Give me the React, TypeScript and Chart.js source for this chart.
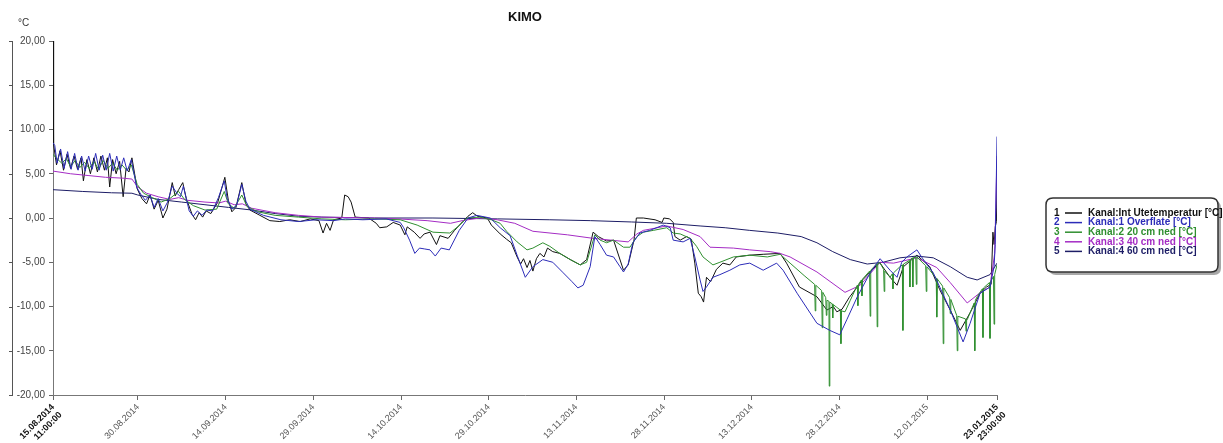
import React, { useEffect, useRef } from 'react';
import { Chart, registerables } from 'chart.js';

Chart.register(...registerables);

const chartTitle = 'KIMO';
const unitLabel = '°C';

const seriesNames = [
  'Kanal:Int Utetemperatur [°C]',
  'Kanal:1 Overflate [°C]',
  'Kanal:2 20 cm ned [°C]',
  'Kanal:3 40 cm ned [°C]',
  'Kanal:4 60 cm ned [°C]',
];
const seriesColors = ['#111111', '#2c2cb8', '#2f8f2f', '#a42cc4', '#1d1d66'];
// drawing order: lower value is drawn on top
const seriesOrder = [5, 1, 2, 3, 4];

// x positions in days since 15.08.2014 11:00:00
const xTickDays = [0, 14.54, 29.54, 44.54, 59.54, 74.54, 89.54, 104.54, 119.54, 134.54, 149.54, 161.5];
const xTickLabels: (string | string[])[] = [
  ['15.08.2014', '11:00:00'],
  '30.08.2014',
  '14.09.2014',
  '29.09.2014',
  '14.10.2014',
  '29.10.2014',
  '13.11.2014',
  '28.11.2014',
  '13.12.2014',
  '28.12.2014',
  '12.01.2015',
  ['23.01.2015', '23:00:00'],
];
const yTickValues = [20, 15, 10, 5, 0, -5, -10, -15, -20];

const uteTemp: [number, number][] = [
  [0, 20], [0.1, 8.3], [0.6, 6.0], [1.2, 7.6], [1.8, 5.4], [2.4, 7.2], [3, 5.6], [3.6, 7.0], [4.2, 5.5], [4.8, 6.8],
  [5.2, 4.2], [5.8, 6.6], [6.4, 5.0], [7, 6.8], [7.6, 5.2], [8.2, 7.0], [8.8, 5.4], [9.3, 6.8], [9.7, 3.5], [10.2, 6.6],
  [10.8, 5.0], [11.4, 6.4], [12, 2.4], [12.5, 5.6], [13, 5.2], [13.5, 6.8],
  [14.4, 3.3], [15.2, 2.2], [16, 1.6], [16.6, 2.6], [17.3, 1.0], [18, 2.0], [18.8, 0.0], [19.5, 1.0],
  [20.4, 4.0], [20.9, 2.5], [21.5, 3.2], [22.2, 4.0], [22.8, 2.2], [23.8, 0.4], [24.4, -0.2], [25, 0.6], [25.6, 0.1], [26.2, 0.8],
  [27, 0.5], [28.2, 1.8], [29.4, 4.6], [30, 2.0], [30.6, 0.7], [31.3, 1.2], [32.3, 4.0], [33, 1.6], [33.7, 0.9],
  [35.4, 0.3], [37.1, -0.3], [38.8, -0.4], [40.5, -0.2], [42.3, -0.4], [44, -0.1], [45.5, -0.3], [46.2, -1.7], [46.8, -0.6], [47.4, -1.4],
  [48, -0.2], [49.4, 0.0], [49.9, 2.6], [50.5, 2.4], [51, 1.8], [51.7, 0.1], [54, 0.0], [55.3, -0.6], [55.9, -1.1], [57.1, -1.0],
  [58.2, -0.5], [59.4, -0.8], [60.2, -1.9], [60.6, -1.0], [61.8, -1.6], [62.8, -2.3], [63.5, -1.8], [64.5, -1.6], [65.6, -3.0], [66.2, -2.0],
  [67.6, -2.3], [68.7, -1.4], [70.1, -0.4], [71, 0.2], [71.8, 0.6], [72.6, 0.2], [74.3, 0.0], [75, -0.8],
  [76.5, -1.8], [77.6, -2.4], [78.4, -2.8], [79.4, -4.4], [80, -5.2], [80.5, -4.6], [81.1, -5.6], [81.6, -4.8], [82.1, -6.0], [82.7, -4.6],
  [83.3, -4.0], [84, -4.4], [84.6, -3.4], [85.5, -3.8], [86.7, -4.0], [88.5, -4.7], [90.2, -5.3], [91.3, -4.7], [92.4, -1.6], [93.3, -2.1],
  [94.7, -2.6], [95.9, -2.5], [97.6, -5.9], [98.4, -5.3], [99.4, -2.5], [99.8, 0.0], [101, 0.0], [103, -0.2], [104.2, -0.5], [104.5, 0.0],
  [105.5, -0.1], [106.1, -0.5], [106.4, -2.1], [107.3, -2.5], [108.4, -2.1], [109.2, -2.4], [109.8, -5.1], [110.4, -8.5], [110.9, -8.9], [111.3, -9.5],
  [111.8, -6.7], [112.5, -7.2], [113.5, -5.8], [114.6, -5.1], [115.8, -5.3], [116.9, -4.4], [119.2, -4.2],
  [121.5, -4.1], [124.4, -4.0], [125.5, -5.1], [127.7, -7.8], [130.7, -8.9], [132.4, -10.4], [133.5, -10.0], [134.1, -10.6], [135, -10.3], [136.2, -9.0],
  [138.5, -7.0], [141.4, -5.0], [143.2, -6.7], [144.4, -7.6], [145.5, -5.5], [147.8, -4.2], [150, -5.5], [151.7, -8.1], [153.5, -10.4], [155.2, -12.7],
  [156.9, -10.7], [158.6, -8.5], [159.7, -7.8], [160.5, -7.5], [160.8, -1.6], [161, -3.0], [161.2, -1.0], [161.4, -0.4], [161.5, 4.5],
];

const overflate: [number, number][] = [
  [0, 8.5], [0.3, 8.2], [0.7, 6.2], [1.3, 7.8], [1.9, 5.6], [2.5, 7.5], [3.1, 5.5], [3.7, 7.3], [4.3, 5.4], [4.9, 7.0],
  [5.5, 5.3], [6.1, 7.0], [6.7, 5.5], [7.3, 7.3], [7.9, 5.4], [8.5, 7.1], [9.1, 5.4], [9.7, 7.3], [10.3, 5.3], [10.9, 7.0],
  [11.5, 5.4], [12.1, 6.8], [12.7, 5.3], [13.4, 6.6],
  [14.3, 3.5], [15, 2.7], [15.8, 2.0], [16.6, 2.6], [17.3, 1.2], [18, 2.2], [18.8, 0.8], [19.6, 1.8], [20.4, 3.6], [21.2, 2.8],
  [21.8, 2.4], [22.3, 3.6], [23.3, 0.8], [24, 0.2], [24.7, 0.8], [25.5, 0.3], [26.3, 0.9], [27.3, 0.8], [28.3, 2.3], [29.3, 4.2],
  [29.8, 2.2], [30.6, 1.0], [31.4, 1.4], [32.3, 3.8], [33, 1.9], [33.7, 1.0],
  [36, 0.3], [39, -0.2], [42, -0.4], [45, -0.2], [48, -0.3], [50, -0.1], [53, -0.2], [57, -0.1], [59.4, -0.5], [60, -1.1],
  [61, -2.5], [61.9, -4.0], [62.7, -3.4], [63.6, -3.5], [64.5, -3.6], [65.4, -4.3], [66.4, -3.4], [67.8, -3.6], [69.5, -1.4], [71, 0.0],
  [72.5, 0.3], [74.8, 0.0], [76.5, -1.1],
  [78.2, -2.0], [79.4, -4.2], [80.8, -6.7], [82.1, -5.5], [83.8, -4.7], [85.5, -5.0], [87.3, -6.2], [88.8, -7.2], [89.8, -7.9], [90.7, -7.6],
  [91.9, -5.5], [92.7, -2.1], [93.6, -3.0], [94.7, -4.2], [95.9, -4.4], [97, -5.5], [97.6, -6.1], [98.4, -5.2], [99.2, -2.8], [100.4, -1.7],
  [102.1, -1.4], [104.4, -0.8], [105.6, -1.1], [106.1, -2.5], [107.8, -2.7], [109, -2.3], [109.8, -4.4], [110.7, -7.0], [111.2, -8.3], [111.9, -7.7],
  [112.9, -6.7], [114.1, -6.4], [115.8, -5.9], [117.5, -5.3], [119.2, -5.1],
  [121.5, -5.9], [123.8, -5.1], [124.9, -5.9], [127.3, -8.5], [130.7, -11.9], [132.9, -12.7], [134.6, -13.2], [135.8, -11.5], [137.6, -8.9], [139.8, -6.2],
  [141.5, -4.6], [143.2, -5.9], [144.4, -6.7], [145.2, -5.0], [146.1, -4.4], [147.8, -3.6], [148.8, -4.6], [150.6, -6.2], [153.5, -10.4], [155.7, -14.0],
  [156.9, -11.9], [158.6, -8.5], [160.3, -7.8], [161, -5.5], [161.2, -3.0], [161.5, 9.2],
];

const cm20: [number, number][] = [
  [0, 7.2], [0.5, 6.8], [1.5, 6.2], [2.3, 6.7], [3, 5.8], [3.8, 6.5], [4.6, 5.7], [5.4, 6.3], [6.2, 5.6], [7, 6.4],
  [7.8, 5.5], [8.6, 6.5], [9.4, 5.6], [10.2, 6.2], [11, 5.4], [11.8, 6.0], [12.6, 5.4], [13.4, 6.0], [14.4, 3.8], [15.5, 2.8],
  [17, 2.3], [18.5, 1.8], [20, 2.2], [21.5, 3.0], [22.5, 2.1], [24, 1.4], [26, 0.9], [28, 1.0], [29.3, 3.0], [30, 1.6],
  [31, 1.1], [32.3, 2.6], [33.2, 1.3], [35, 0.7], [38, 0.3], [42, 0.1], [46, -0.1], [50, -0.2], [55, -0.1], [59.4, -0.2],
  [62.3, -0.8], [65, -1.6], [67.9, -1.7], [69.6, -0.8], [70.8, 0.0], [73, 0.1], [75, -0.2],
  [76.5, -0.6], [77.6, -1.5], [79.4, -2.7], [81.1, -3.6], [82.1, -3.4], [83.8, -2.8], [85, -3.2], [86.7, -4.0], [88.5, -4.7], [90.2, -5.3],
  [91.3, -5.0], [92.7, -1.9], [93.6, -2.5], [94.7, -2.8], [95.9, -2.5], [97.6, -3.3], [98.7, -3.3], [99.9, -2.1], [101, -1.6], [102.7, -1.4],
  [105, -1.1], [106.1, -1.7], [107.3, -1.8], [109, -2.3], [110.1, -3.2], [111.2, -4.4], [112.9, -5.3], [114.1, -5.0], [116.4, -4.4], [119.2, -4.2],
  [122.2, -4.4], [124.4, -4.1], [126.1, -5.1], [128.5, -6.5], [130.3, -7.5], [130.4, -10.5], [130.5, -7.6], [131.5, -8.2], [131.6, -12.4], [131.7, -8.4],
  [132.2, -9.0], [132.3, -11.0], [132.4, -9.3], [132.75, -9.4], [132.8, -19.0], [132.9, -9.5], [133.3, -9.7], [133.4, -11.3], [133.5, -9.8], [134.1, -10.1],
  [134.7, -10.4], [134.8, -14.2], [134.9, -10.5], [135.5, -10.6], [136.4, -9.3], [137.6, -7.6], [137.7, -9.9], [137.8, -7.5], [138.3, -7.0], [138.4, -8.8],
  [138.5, -6.9], [139.7, -6.0], [139.8, -11.1], [139.9, -5.9], [140.9, -5.2], [141, -12.3], [141.1, -5.1], [141.5, -5.1], [142.1, -5.8], [142.2, -8.3],
  [142.3, -6.0], [143.2, -6.7], [143.6, -6.3], [143.7, -8.0], [143.8, -6.2], [144.9, -5.5], [145.3, -5.3], [145.4, -12.7], [145.5, -5.2], [146.5, -4.8],
  [146.6, -7.8], [146.7, -4.7], [147, -4.5], [147.1, -7.8], [147.2, -4.5], [147.6, -4.4], [147.7, -7.5], [147.8, -4.4], [149.3, -5.4], [149.4, -8.3],
  [149.5, -5.5], [150, -5.9], [151.1, -6.8], [151.2, -11.2], [151.3, -6.9], [152.2, -7.7], [152.3, -14.2], [152.4, -7.9], [153.4, -9.0], [153.5, -10.8],
  [153.6, -9.2], [154.6, -11.0], [154.7, -15.0], [154.8, -11.1], [156.1, -11.4], [156.2, -12.8], [156.3, -11.5], [156.4, -11.5], [157.6, -9.6], [157.7, -15.0],
  [157.8, -9.3], [158.1, -8.9], [159, -8.0], [159.1, -13.5], [159.2, -7.9], [160.2, -7.3], [160.3, -13.6], [160.4, -7.2], [160.9, -6.6], [161, -12.0],
  [161.1, -6.4], [161.5, -5.3],
];

const cm40: [number, number][] = [
  [0, 5.3], [3, 5.0], [6, 4.8], [9, 4.6], [12, 4.5], [13.5, 4.4], [14.5, 3.5], [16, 2.8], [18, 2.4], [20, 2.1],
  [21.5, 2.3], [23, 2.0], [26, 1.8], [28.4, 1.7], [29.5, 1.9], [31, 1.5], [32.4, 1.6], [34, 1.1], [38, 0.6], [42, 0.3],
  [46, 0.1], [55, 0.0], [59, -0.1], [64, -0.3], [68, -0.6], [70, -0.3], [73, 0.0], [76, -0.2], [79, -0.6], [82.1, -1.5],
  [88, -1.9], [92.4, -2.3], [98.4, -2.7], [99.9, -1.8], [101, -1.4], [105, -0.9], [107.8, -1.3], [110.7, -2.1], [112.4, -3.3], [116.4, -3.4],
  [119.2, -3.6], [122.7, -3.8], [124.4, -4.0], [126.1, -4.4], [130.7, -6.1], [135.5, -8.4], [138.1, -7.6], [141.5, -5.0], [143.8, -5.1], [147.8, -4.5],
  [151.2, -5.6], [153.5, -7.3], [156.4, -9.6], [158.5, -8.5], [160.3, -7.8], [161.1, -4.0], [161.5, 7.0],
];

const cm60: [number, number][] = [
  [0, 3.2], [5, 3.0], [10, 2.85], [13.5, 2.8], [14.5, 2.6], [18, 2.1], [22, 1.8], [26, 1.5], [30, 1.2], [34, 0.9],
  [38, 0.5], [42, 0.2], [46, 0.1], [55, 0.0], [65, 0.0], [76, -0.1], [85, -0.2], [92, -0.3], [99, -0.45], [105, -0.6],
  [110.7, -0.9], [115, -1.1], [119.2, -1.4], [124, -1.7], [128, -2.1], [130.7, -2.8], [133.4, -3.8], [136.4, -4.7], [139.3, -5.2], [142, -5.0],
  [144.9, -4.5], [147.8, -4.3], [150.6, -4.5], [153.5, -5.5], [156.4, -6.7], [158.1, -7.0], [160.3, -6.4], [161.5, -5.1],
];

const seriesData = [uteTemp, overflate, cm20, cm40, cm60];

const FONT = '"Liberation Sans", Arial, sans-serif';

function roundRectPath(ctx: CanvasRenderingContext2D, x: number, y: number, w: number, h: number, r: number) {
  ctx.beginPath();
  ctx.moveTo(x + r, y);
  ctx.lineTo(x + w - r, y);
  ctx.quadraticCurveTo(x + w, y, x + w, y + r);
  ctx.lineTo(x + w, y + h - r);
  ctx.quadraticCurveTo(x + w, y + h, x + w - r, y + h);
  ctx.lineTo(x + r, y + h);
  ctx.quadraticCurveTo(x, y + h, x, y + h - r);
  ctx.lineTo(x, y + r);
  ctx.quadraticCurveTo(x, y, x + r, y);
  ctx.closePath();
}

const boxLegendPlugin = {
  id: 'boxLegend',
  afterDraw(chart: any) {
    const ctx: CanvasRenderingContext2D = chart.ctx;
    const x = chart.chartArea.right + 49;
    const y = 198;
    const w = 172;
    const h = 74;
    ctx.save();
    ctx.fillStyle = '#a8a8a8';
    roundRectPath(ctx, x + 3, y + 3, w, h, 7);
    ctx.fill();
    ctx.fillStyle = '#ffffff';
    roundRectPath(ctx, x, y, w, h, 7);
    ctx.fill();
    ctx.strokeStyle = '#333333';
    ctx.lineWidth = 1.5;
    ctx.stroke();
    ctx.font = `bold 10px ${FONT}`;
    ctx.textBaseline = 'middle';
    ctx.textAlign = 'left';
    chart.data.datasets.forEach((ds: any, i: number) => {
      const ry = y + 15 + i * 9.6;
      ctx.fillStyle = ds.borderColor;
      ctx.fillText(String(i + 1), x + 8, ry);
      ctx.strokeStyle = ds.borderColor;
      ctx.lineWidth = 1.5;
      ctx.beginPath();
      ctx.moveTo(x + 19, ry);
      ctx.lineTo(x + 36, ry);
      ctx.stroke();
      ctx.fillText(ds.label, x + 42, ry);
    });
    ctx.restore();
  },
};

const leftAxisPlugin = {
  id: 'leftAxis',
  afterDraw(chart: any) {
    const ctx: CanvasRenderingContext2D = chart.ctx;
    const ys = chart.scales.y;
    const top = ys.getPixelForValue(yTickValues[0]);
    const bottom = ys.getPixelForValue(yTickValues[yTickValues.length - 1]);
    ctx.save();
    ctx.strokeStyle = '#555555';
    ctx.lineWidth = 1;
    ctx.beginPath();
    ctx.moveTo(12.5, top);
    ctx.lineTo(12.5, bottom);
    yTickValues.forEach((v) => {
      const py = Math.round(ys.getPixelForValue(v)) + 0.5;
      ctx.moveTo(9, py);
      ctx.lineTo(13, py);
    });
    ctx.stroke();
    ctx.fillStyle = '#333333';
    ctx.font = `10px ${FONT}`;
    ctx.textAlign = 'left';
    ctx.textBaseline = 'middle';
    ctx.fillText(unitLabel, 18, top - 18);
    ctx.restore();
  },
};

export default function App() {
  const ref = useRef<HTMLCanvasElement>(null);
  useEffect(() => {
    document.body.style.margin = '0';
    if (!ref.current) return;
    const lastIdx = xTickDays.length - 1;
    const chart = new Chart(ref.current, {
      type: 'line',
      data: {
        datasets: seriesData.map((s, i) => ({
          label: seriesNames[i],
          data: s.map(([x, y]) => ({ x, y })),
          borderColor: seriesColors[i],
          backgroundColor: seriesColors[i],
          borderWidth: 1,
          pointRadius: 0,
          tension: 0,
          fill: false,
          order: seriesOrder[i],
        })),
      },
      options: {
        animation: false,
        responsive: true,
        maintainAspectRatio: false,
        devicePixelRatio: 1,
        parsing: false as any,
        layout: { padding: { left: 0, right: 226, top: 0, bottom: 0 } },
        plugins: {
          legend: { display: false },
          tooltip: { enabled: false },
          title: {
            display: true,
            text: chartTitle,
            fullSize: false,
            color: '#111111',
            font: { family: FONT, size: 13, weight: 'bold' },
            padding: { top: 10, bottom: 15.4 },
          },
        },
        scales: {
          x: {
            type: 'linear',
            min: xTickDays[0],
            max: xTickDays[lastIdx],
            afterBuildTicks: (scale: any) => {
              scale.ticks = xTickDays.map((v) => ({ value: v }));
            },
            afterFit: (scale: any) => {
              scale.height = 48;
            },
            ticks: {
              autoSkip: false,
              minRotation: 45,
              maxRotation: 45,
              padding: 2,
              callback: (_v: any, index: number) => xTickLabels[index],
              color: (c: any) => (c.index === 0 || c.index === lastIdx ? '#111111' : '#555555'),
              font: (c: any) =>
                c.index === 0 || c.index === lastIdx
                  ? { family: FONT, size: 9, weight: 'bold' }
                  : { family: FONT, size: 9 },
            },
            grid: { drawOnChartArea: false, tickLength: 5, tickColor: '#666666' },
            border: { color: '#777777', width: 1 },
          },
          y: {
            type: 'linear',
            min: yTickValues[yTickValues.length - 1],
            max: yTickValues[0],
            afterBuildTicks: (scale: any) => {
              scale.ticks = yTickValues.map((v) => ({ value: v }));
            },
            afterFit: (scale: any) => {
              scale.width = 53;
            },
            ticks: {
              padding: 4,
              color: '#444444',
              font: { family: FONT, size: 10 },
              callback: (v: any) => Number(v).toFixed(2).replace('.', ','),
            },
            grid: { drawOnChartArea: false, tickLength: 4, tickColor: '#666666' },
            border: { color: '#777777', width: 1 },
          },
        },
      },
      plugins: [boxLegendPlugin, leftAxisPlugin],
    } as any);
    return () => chart.destroy();
  }, []);
  return (
    <div style={{ position: 'relative', width: '1223px', height: '443px' }}>
      <canvas ref={ref} />
    </div>
  );
}
